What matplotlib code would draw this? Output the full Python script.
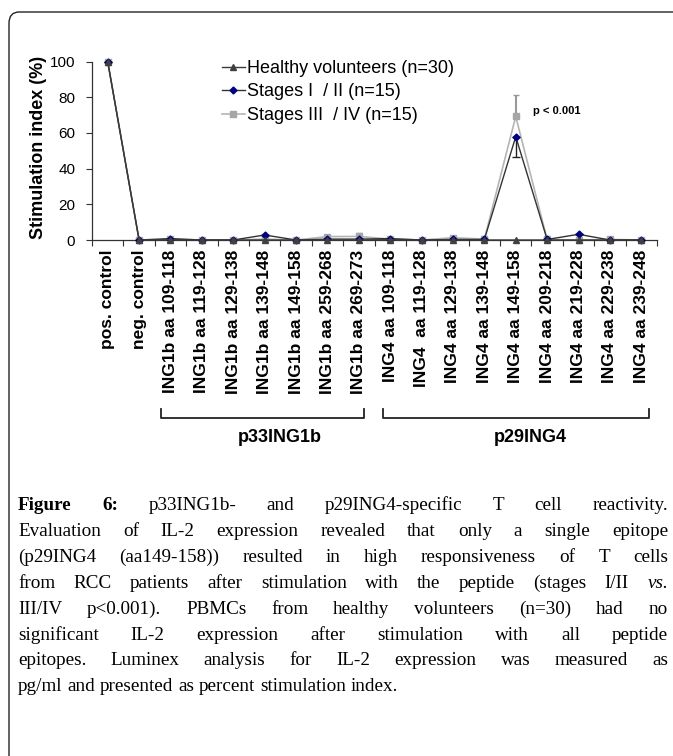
import matplotlib
matplotlib.use("Agg")
import matplotlib.pyplot as plt
from matplotlib.patches import FancyBboxPatch
from matplotlib.lines import Line2D

plt.rcParams['font.family'] = ['Liberation Sans', 'DejaVu Sans']

categories = ["pos. control", "neg. control",
              "ING1b aa 109-118", "ING1b aa 119-128", "ING1b aa 129-138",
              "ING1b aa 139-148", "ING1b aa 149-158", "ING1b aa 259-268",
              "ING1b aa 269-273",
              "ING4 aa 109-118", "ING4  aa 119-128", "ING4 aa 129-138",
              "ING4 aa 139-148", "ING4 aa 149-158", "ING4 aa 209-218",
              "ING4 aa 219-228", "ING4 aa 229-238", "ING4 aa 239-248"]

healthy = [100, 0, 0.2, 0, 0, 0, 0, 0, 0, 0.2, 0, 0, 0, 0, 0, 0, 0, 0]
stage12 = [100, 0, 0.8, 0, 0, 2.8, 0, 0.5, 0.5, 0.8, 0, 0.3, 0.3, 57.9, 0.3, 3.2, 0, 0]
stage34 = [100, 0, 0.3, 0, 0, 0.5, 0, 1.9, 2.0, 0.5, 0, 1.3, 0.5, 69.2, 0.3, 0, 0.3, 0]

stage12_err_low = [0]*13 + [11.5] + [0]*4
stage34_err_up = [0]*8 + [1.7] + [0]*4 + [12.1] + [0]*4

legend_labels = ["Healthy volunteers (n=30)", "Stages I  / II (n=15)", "Stages III  / IV (n=15)"]
group_labels = ["p33ING1b", "p29ING4"]
p_text = "p < 0.001"

W, H = 673, 756
fig = plt.figure(figsize=(W/100, H/100), dpi=100)

def fx(px): return px / W
def fy(py): return 1 - py / H

# border
border = FancyBboxPatch((fx(9), fy(800)), fx(720) - fx(9), fy(12) - fy(800),
                        boxstyle="round,pad=0,rounding_size=0.015",
                        transform=fig.transFigure, fill=False, edgecolor='#222222',
                        linewidth=1.0, clip_on=True)
fig.patches.append(border)

ax = fig.add_axes([fx(92), fy(240), fx(657) - fx(92), fy(61.5) - fy(240)])
x = list(range(len(categories)))

c34 = ax.errorbar(x, stage34, yerr=[[0]*len(x), stage34_err_up], color='#b5b5b5', lw=1.2,
                  marker='s', ms=4, mfc='#a6a6a6', mec='#a6a6a6', ecolor='#999999',
                  elinewidth=1.5, capsize=2.5, clip_on=False, zorder=2)
c12 = ax.errorbar(x, stage12, yerr=[stage12_err_low, [0]*len(x)], color='#333333', lw=1.0,
                  marker='D', ms=3.5, mfc='#000080', mec='#000080', ecolor='#222222',
                  elinewidth=1.0, capsize=3, clip_on=False, zorder=3)
lh, = ax.plot(x, healthy, color='#3a3a3a', lw=1.0, marker='^', ms=4.5, mfc='#404040',
              mec='#404040', clip_on=False, zorder=4)

ax.set_xlim(-0.5, len(categories) - 0.5)
ax.set_ylim(0, 100)
ax.set_yticks([0, 20, 40, 60, 80, 100])
ax.tick_params(axis='y', labelsize=11, length=4, width=0.8, pad=8, color='#333333')
ax.set_xticks(x)
ax.set_xticklabels(categories, rotation=90, fontsize=12.5, fontweight='bold')
ax.tick_params(axis='x', which='major', length=0, pad=7)
ax.set_xticks([i - 0.5 for i in range(len(categories) + 1)], minor=True)
ax.tick_params(axis='x', which='minor', length=4, width=0.8, color='#333333')
for s in ['top', 'right']:
    ax.spines[s].set_visible(False)
for s in ['left', 'bottom']:
    ax.spines[s].set_color('#333333')
    ax.spines[s].set_linewidth(0.9)
ax.set_ylabel("Stimulation index (%)", fontsize=13, fontweight='bold')
ax.yaxis.set_label_coords(-0.08, 0.52)

ax.text(13.55, 72, p_text, fontsize=8, fontweight='bold', ha='left', va='center')

leg = fig.legend([lh, c12.lines[0], c34.lines[0]], legend_labels,
                 loc='upper left', bbox_to_anchor=(fx(222), fy(60)), frameon=False,
                 fontsize=13, handlelength=1.25, handletextpad=0.15,
                 labelspacing=0.36, borderpad=0, borderaxespad=0)

# brackets
bcol = '#222222'
for (x0, x1) in [(160.7, 364), (383, 649)]:
    fig.add_artist(Line2D([fx(x0), fx(x0), fx(x1), fx(x1)],
                          [fy(409), fy(418), fy(418), fy(409)],
                          transform=fig.transFigure, color=bcol, lw=1.3))
fig.text(fx(280), fy(437), group_labels[0], ha='center', va='center',
         fontsize=13, fontweight='bold')
fig.text(fx(530), fy(437), group_labels[1], ha='center', va='center',
         fontsize=13, fontweight='bold')

# caption
N, B, I = 'normal', 'bold', 'italic'
cap_lines = [
    ([("Figure", B), ("6:", B)] + [(w, N) for w in "p33ING1b- and p29ING4-specific T cell reactivity.".split()], True),
    ([(w, N) for w in "Evaluation of IL-2 expression revealed that only a single epitope".split()], True),
    ([(w, N) for w in "(p29ING4 (aa149-158)) resulted in high responsiveness of T cells".split()], True),
    ([(w, N) for w in "from RCC patients after stimulation with the peptide (stages I/II".split()] + [("vs.", I)], True),
    ([(w, N) for w in "III/IV p<0.001). PBMCs from healthy volunteers (n=30) had no".split()], True),
    ([(w, N) for w in "significant IL-2 expression after stimulation with all peptide".split()], True),
    ([(w, N) for w in "epitopes. Luminex analysis for IL-2 expression was measured as".split()], True),
    ([(w, N) for w in "pg/ml and presented as percent stimulation index.".split()], False),
]
cap_fs = 13.8
serif = ['Liberation Serif', 'DejaVu Serif']
L, R = 18, 668
base0, dy = 510, 25.9
fig.canvas.draw()
rend = fig.canvas.get_renderer()
space_px = cap_fs * 100 / 72 * 0.25
for i, (words, justify) in enumerate(cap_lines):
    yb = fy(base0 + i * dy)
    texts = []
    for w, st in words:
        t = fig.text(0, yb, w, fontsize=cap_fs, family=serif,
                     fontweight='bold' if st == B else 'normal',
                     fontstyle='italic' if st == I else 'normal',
                     ha='left', va='baseline')
        texts.append(t)
    widths = [t.get_window_extent(rend).width for t in texts]
    gap = (R - L - sum(widths)) / (len(texts) - 1) if justify else space_px
    xx = L
    for t, wd in zip(texts, widths):
        t.set_x(fx(xx))
        xx += wd + gap

fig.savefig("out.png", dpi=100)
